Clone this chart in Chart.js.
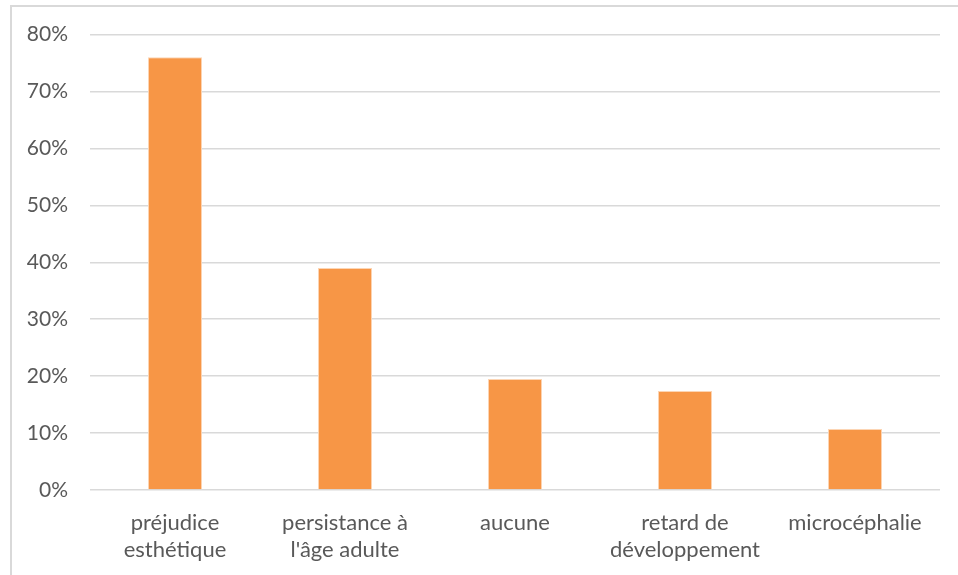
<!DOCTYPE html>
<html>
<head>
<meta charset="utf-8">
<script src="https://cdn.jsdelivr.net/npm/chart.js@4"></script>
<style>
    html, body { margin: 0; padding: 0; background: #fff; }
    #frame {
        position: absolute; left: 10px; top: 5px; width: 960px; height: 600px;
        border: 2px solid #d9d9d9; box-sizing: border-box;
    }
    #wrap { position: absolute; left: 0; top: 0; width: 958px; height: 575px; }
</style>
</head>
<body>
<div id="frame"></div>
<div id="wrap"><canvas id="myChart"></canvas></div>
<script>
const categories = [
    ['préjudice', 'esthétique'],
    ['persistance à', "l'âge adulte"],
    'aucune',
    ['retard de', 'développement'],
    'microcéphalie'
];
const values = [76, 39, 19.5, 17.4, 10.7];
const yTicks = [0, 10, 20, 30, 40, 50, 60, 70, 80];

const fontFamily = 'Lato, "Open Sans", sans-serif';

function renderChart() {
    const ctx = document.getElementById('myChart');
    return new Chart(ctx, {
        type: 'bar',
        data: {
            labels: categories,
            datasets: [{
                data: values,
                backgroundColor: '#f79646',
                borderColor: '#fcd5b4',
                borderWidth: 1,
                barPercentage: 0.318,
                categoryPercentage: 1
            }]
        },
        options: {
            responsive: true,
            maintainAspectRatio: false,
            animation: false,
            layout: { padding: { top: 34, right: 18, left: 0, bottom: 0 } },
            plugins: { legend: { display: false }, tooltip: { enabled: false } },
            scales: {
                x: {
                    grid: { display: false },
                    border: { display: false },
                    ticks: {
                        color: '#595959',
                        font: { family: fontFamily, size: 22, lineHeight: 1.23 },
                        padding: 11,
                        maxRotation: 0,
                        autoSkip: false
                    },
                    afterFit: (scale) => { scale.height = 85; }
                },
                y: {
                    min: 0,
                    max: 80,
                    afterBuildTicks: (scale) => {
                        scale.ticks = yTicks.map(v => ({ value: v }));
                    },
                    grid: { color: '#d9d9d9', lineWidth: 1.5, drawTicks: false },
                    border: { display: false },
                    ticks: {
                        color: '#595959',
                        font: { family: fontFamily, size: 21 },
                        padding: 22,
                        callback: (v) => v + '%'
                    },
                    afterFit: (scale) => { scale.width = 90; }
                }
            }
        }
    });
}

renderChart();
</script>
</body>
</html>
